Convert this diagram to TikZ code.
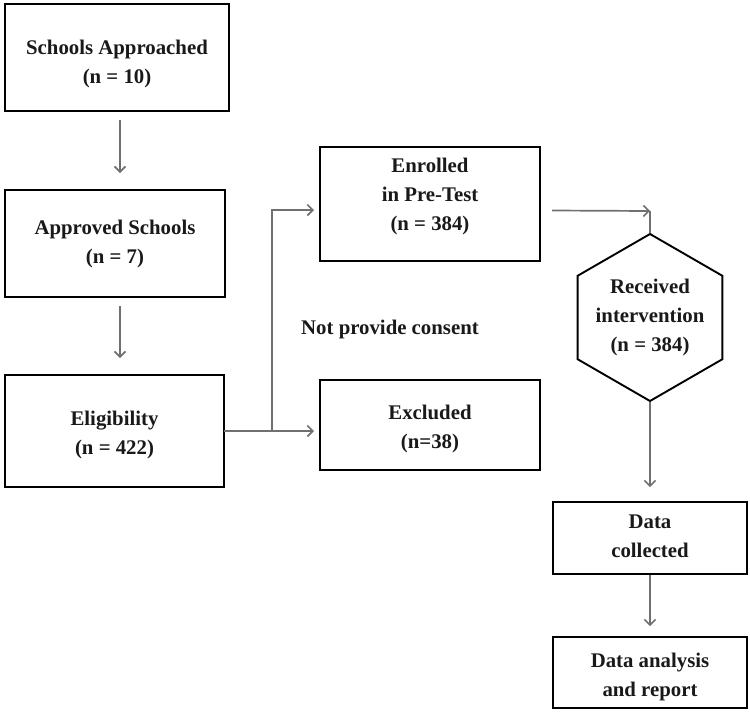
\documentclass[tikz,border=0pt]{standalone}
\usepackage{fontspec}
\setmainfont{Liberation Serif}
\usetikzlibrary{arrows.meta,shapes.geometric}
\definecolor{arrgray}{RGB}{112,112,112}
\definecolor{txtcol}{RGB}{25,25,25}
\tikzset{
  box/.style={draw=black, line width=1.9pt, inner sep=0pt, fill=white},
  txt/.style={align=center, text=txtcol, font=\fontsize{20.8}{29}\selectfont\bfseries, inner sep=0pt, yshift=-2.5pt},
  arr/.style={draw=arrgray, line width=1.7pt, -{Straight Barb[length=5.5pt,width=11pt,line width=1.6pt]}},
  plain/.style={draw=arrgray, line width=1.7pt},
}
\begin{document}
\begin{tikzpicture}[x=1pt,y=-1pt]
\useasboundingbox (0,0) rectangle (750,721);
% boxes
\node[box, minimum width=224pt, minimum height=107pt] (b1) at (117,57.5) {};
\node[txt] (t1) at (117,61) {Schools Approached\\(n = 10)};
\node[box, minimum width=220pt, minimum height=107pt] (b2) at (115,243.5) {};
\node[txt] (t2) at (115,241) {Approved Schools\\(n = 7)};
\node[box, minimum width=219pt, minimum height=112pt] (b3) at (114.5,431) {};
\node[txt] (t3) at (114.5,432) {Eligibility\\(n = 422)};
\node[box, minimum width=220pt, minimum height=114pt] (en) at (430,204) {};
\node[txt] (ten) at (430,194) {Enrolled\\in Pre-Test\\(n = 384)};
\node[box, minimum width=220pt, minimum height=90pt] (ex) at (430,425) {};
\node[txt] (tex) at (430,426) {Excluded\\(n=38)};
\node[txt] (np) at (390,327) {Not provide consent};
\node[regular polygon, regular polygon sides=6, shape border rotate=30, minimum size=167pt, inner sep=0pt, draw=black, line width=1.9pt] (hx) at (650,317.5) {};
\node[txt] (thx) at (650,315) {Received\\intervention\\(n = 384)};
\node[box, minimum width=194pt, minimum height=72pt] (dc) at (650,538) {};
\node[txt] (tdc) at (650,534) {Data\\collected};
\node[box, minimum width=194pt, minimum height=71pt] (da) at (650,672.5) {};
\node[txt] (tda) at (650,674.5) {Data analysis\\and report};
% connectors
\coordinate (a1s) at (120,120);
\coordinate (a1e) at (120,173);
\draw[arr] (a1s) -- (a1e);
\coordinate (a2s) at (120,306);
\coordinate (a2e) at (120,358);
\draw[arr] (a2s) -- (a2e);
\coordinate (br) at (272,431);
\coordinate (elr) at (224,431);
\coordinate (exl) at (314,431);
\coordinate (enl) at (314,210);
\draw[arr] (elr) -- (exl);
\draw[arr] (br) |- (enl);
\coordinate (e1) at (552,210.5);
\coordinate (c1) at (650,211);
\draw[arr] (e1) -- (c1);
\draw[plain] (c1) -- (hx.90);
\draw[arr, shorten >=14pt] (hx.270) -- (dc.north);
\draw[arr, shorten >=10pt] (dc.south) -- (da.north);
\end{tikzpicture}
\end{document}
